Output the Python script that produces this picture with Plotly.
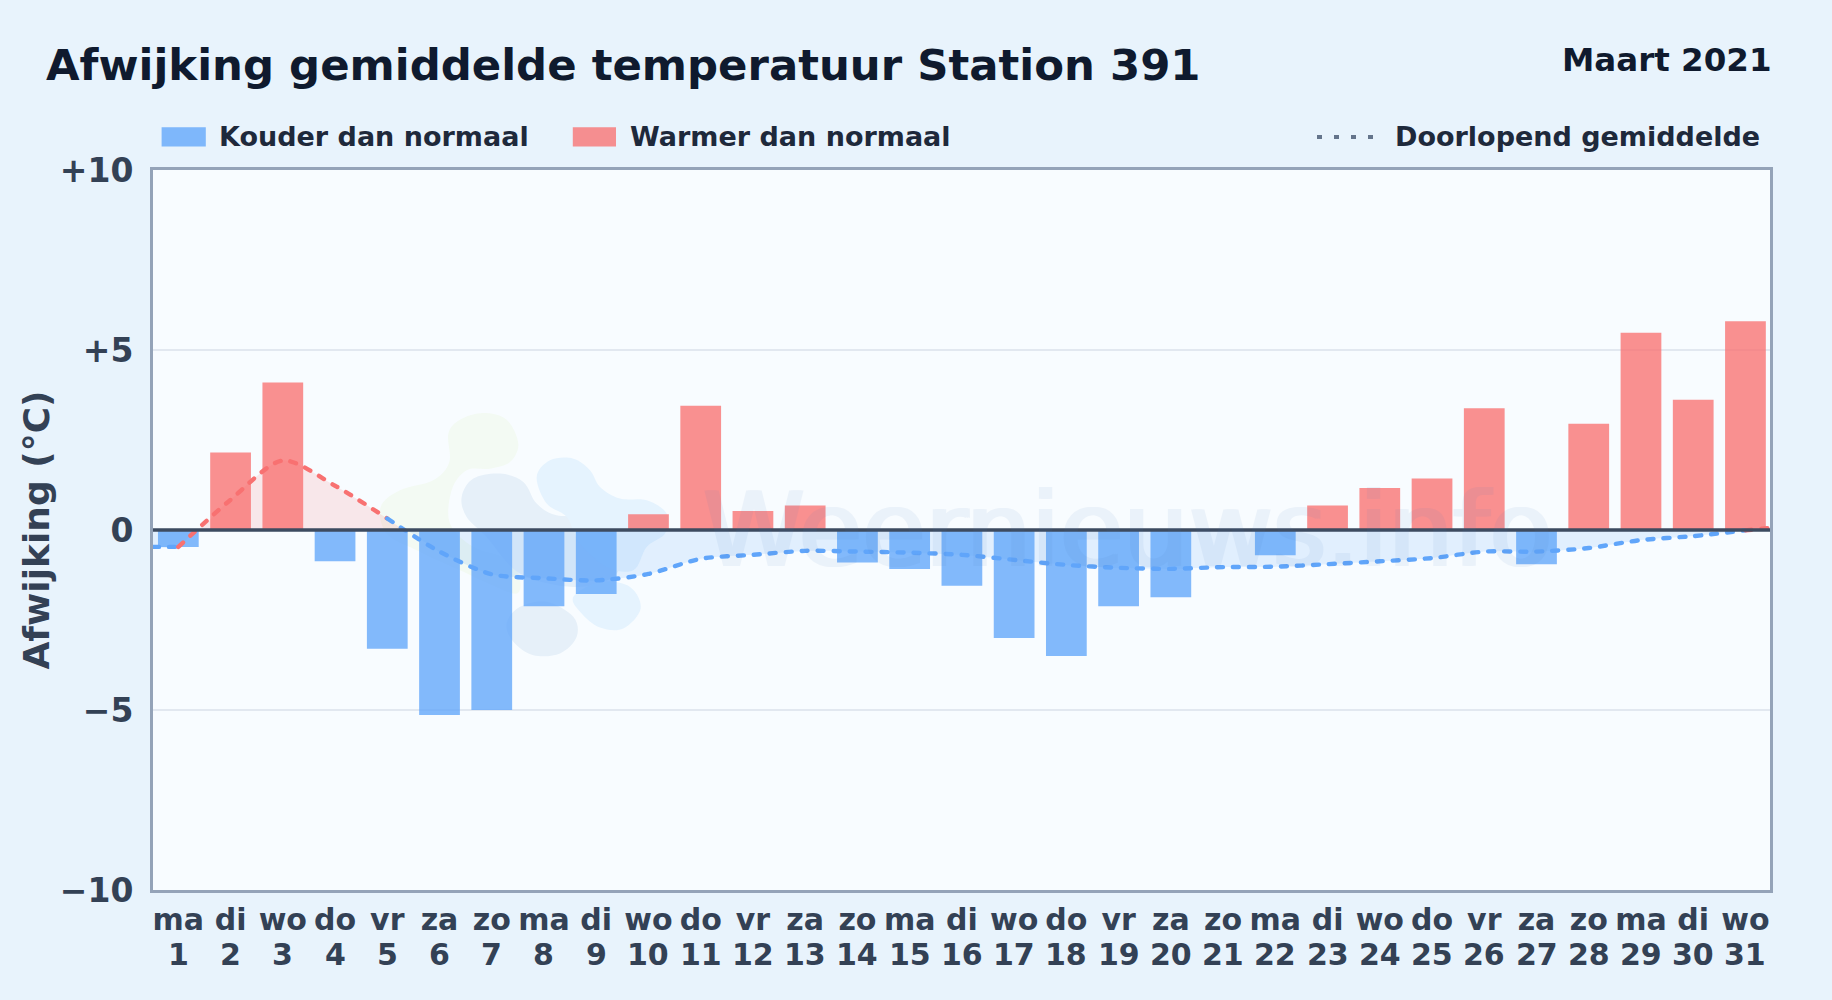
import plotly.graph_objects as go

# ---- data ----
days = list(range(1, 32))
weekdays = ["ma","di","wo","do","vr","za","zo","ma","di","wo","do","vr","za","zo","ma","di","wo","do","vr","za","zo","ma","di","wo","do","vr","za","zo","ma","di","wo"]
deviation = [-0.47,2.15,4.10,-0.87,-3.30,-5.14,-5.00,-2.12,-1.78,0.44,3.45,0.53,0.68,-0.90,-1.08,-1.55,-3.00,-3.50,-2.12,-1.87,0.0,-0.70,0.68,1.17,1.43,3.38,-0.95,2.95,5.48,3.62,5.80]
running_mean = [-0.47,-0.47,0.84,1.93,1.23,0.32,-0.60,-1.23,-1.34,-1.40,-1.22,-0.80,-0.69,-0.58,-0.60,-0.63,-0.69,-0.83,-0.97,-1.05,-1.08,-1.03,-1.02,-0.95,-0.87,-0.78,-0.60,-0.60,-0.50,-0.28,-0.17,-0.01,0.06]
x_range = [0.515, 31.47]
running_x = [x_range[0]] + days + [x_range[1]]
y_ticks = [10, 5, 0, -5, -10]
y_labels = ["+10", "+5", "0", "\u22125", "\u221210"]

COLD, WARM = "#60a5fa", "#f87171"
W, H = 1832, 1000
L, R, T, B = 153, 1770, 169.5, 890
FONT = "DejaVu Sans"
INK, TICK = "#0f1a2e", "#334155"

def px(x): return (x - L) / (R - L)
def py(y): return (B - y) / (B - T)

fig = go.Figure()

# area between running mean and zero (with computed zero crossings)
fx, fy = [], []
for i, (x, v) in enumerate(zip(running_x, running_mean)):
    if i and running_mean[i-1] * v < 0:
        p = running_mean[i-1]
        fx.append(running_x[i-1] + (x - running_x[i-1]) * (-p) / (v - p))
        fy.append(0.0)
    fx.append(x); fy.append(v)
for sign, col in ((1, "rgba(248,113,113,0.15)"), (-1, "rgba(96,165,250,0.15)")):
    fig.add_trace(go.Scatter(x=fx, y=[max(v, 0) if sign > 0 else min(v, 0) for v in fy], mode="lines",
                             line=dict(width=0, shape="spline", smoothing=0.8), fill="tozeroy", fillcolor=col,
                             hoverinfo="skip", showlegend=False))

# bars
fig.add_trace(go.Bar(name="Kouder dan normaal", x=days, y=[v if v < 0 else None for v in deviation],
                     marker=dict(color=COLD, opacity=0.78, line_width=0), width=0.78, showlegend=False))
fig.add_trace(go.Bar(name="Warmer dan normaal", x=days, y=[v if v >= 0 else None for v in deviation],
                     marker=dict(color=WARM, opacity=0.78, line_width=0), width=0.78, showlegend=False))

# running mean: every stretch coloured by the sign of its end point
start = 0
for i in range(1, len(running_x)):
    end_sign = running_mean[i] >= 0
    if i == len(running_x) - 1 or (running_mean[i+1] >= 0) != end_sign:
        fig.add_trace(go.Scatter(x=running_x[start:i+1], y=running_mean[start:i+1], mode="lines",
                                 name="Doorlopend gemiddelde",
                                 line=dict(color=WARM if end_sign else COLD, width=4.4, dash="6px,10px",
                                           shape="spline", smoothing=0.8), showlegend=False))
        start = i

shapes = []

# faint logo watermark behind the bars
def blob(points, color):
    pts = [(px(360 + a / 3), py(390 + b / 3)) for a, b in points]
    n = len(pts)
    d = f"M{pts[0][0]:.5f},{pts[0][1]:.5f}"
    for i in range(n):
        p0, p1, p2, p3 = pts[i-1], pts[i], pts[(i+1) % n], pts[(i+2) % n]
        c1 = (p1[0] + (p2[0]-p0[0])/6, p1[1] + (p2[1]-p0[1])/6)
        c2 = (p2[0] - (p3[0]-p1[0])/6, p2[1] - (p3[1]-p1[1])/6)
        d += f" C{c1[0]:.5f},{c1[1]:.5f} {c2[0]:.5f},{c2[1]:.5f} {p2[0]:.5f},{p2[1]:.5f}"
    shapes.append(dict(type="path", path=d + " Z", xref="paper", yref="paper", layer="below",
                       fillcolor=color, line_width=0))

blob([(265,130),(300,88),(370,68),(440,88),(475,160),(450,215),(390,235),(320,240),(275,300),(270,400),(340,470),(450,510),(480,570),(470,610),(410,590),(300,540),(170,480),(80,430),(62,350),(120,300),(220,270),(268,215)], "#f3faf3")
blob([(305,320),(340,265),(420,250),(490,275),(530,340),(590,375),(700,380),(760,420),(790,480),(760,560),(640,590),(480,550),(380,440),(320,380)], "#e6f0f9")
blob([(440,700),(480,650),(560,635),(640,680),(650,740),(600,790),(520,795),(460,755)], "#e6f0f9")
blob([(530,260),(570,210),(640,205),(690,240),(720,290),(780,325),(860,330),(920,370),(915,430),(860,470),(820,540),(740,530),(660,460),(620,380),(560,340)], "#e5f3fe")
blob([(640,620),(720,575),(810,590),(842,655),(790,715),(720,712),(665,670)], "#e5f3fe")

# zero line over the bars
shapes.append(dict(type="line", xref="paper", yref="y", x0=0, x1=1, y0=0, y1=0, layer="above",
                   line=dict(color="#3d4b60", width=3.4)))

# legend swatches
shapes.append(dict(type="rect", xref="paper", yref="paper", x0=px(161.6), x1=px(205.8), y0=py(146), y1=py(126.7),
                   fillcolor=COLD, opacity=0.78, line_width=0))
shapes.append(dict(type="rect", xref="paper", yref="paper", x0=px(572.8), x1=px(616), y0=py(146), y1=py(126.7),
                   fillcolor=WARM, opacity=0.78, line_width=0))
shapes.append(dict(type="line", xref="paper", yref="paper", x0=px(1317), x1=px(1375), y0=py(136.5), y1=py(136.5),
                   line=dict(color="#64748b", width=4, dash="5px,12px")))

def note(text, x, y, size, color, anchor="left", **kw):
    return dict(text=text, xref="paper", yref="paper", x=px(x), y=py(y), xanchor=anchor, yanchor="middle",
                showarrow=False, font=dict(family=FONT, size=size, color=color, weight="bold"), **kw)

annotations = [
    note("Afwijking gemiddelde temperatuur Station 391", 44, 64, 43.4, INK),
    note("Maart 2021", 1774, 59, 32.5, INK, anchor="right"),
    note("Kouder dan normaal", 216.5, 136, 27, "#1e293b"),
    note("Warmer dan normaal", 627.5, 136, 27, "#1e293b"),
    note("Doorlopend gemiddelde", 1392.5, 136, 27, "#1e293b"),
    dict(text="Weernieuws.info", xref="paper", yref="paper", x=px(1127), y=py(530), xanchor="center", yanchor="middle",
         showarrow=False, opacity=0.07,
         font=dict(family=FONT, size=103, color="#4778be", weight="normal",
                   shadow="2px 0 0 #4778be, -2px 0 0 #4778be")),
]
for d in days:
    annotations.append(dict(text=str(d), xref="x", yref="paper", x=d, y=py(955), xanchor="center", yanchor="middle",
                            showarrow=False, font=dict(family=FONT, size=30, color=TICK, weight="bold")))

fig.update_layout(
    width=W, height=H, margin=dict(l=L, r=W-R, t=T, b=H-B, autoexpand=False),
    paper_bgcolor="#e8f3fc", plot_bgcolor="#f8fcff", barmode="overlay",
    font=dict(family=FONT), shapes=shapes, annotations=annotations, showlegend=False,
    xaxis=dict(range=x_range, tickmode="array", tickvals=days, ticktext=weekdays, ticks="", showgrid=False, zeroline=False,
               tickangle=0, ticklabelstandoff=1, tickfont=dict(family=FONT, size=30, color=TICK, weight="bold"),
               showline=True, mirror=True, linecolor="#94a3b8", linewidth=3),
    yaxis=dict(range=[-10, 10], tickmode="array", tickvals=y_ticks, ticktext=y_labels, ticks="",
               gridcolor="#e2e8f0", gridwidth=2, zeroline=False, ticklabelstandoff=10,
               tickfont=dict(family=FONT, size=33, color=TICK, weight="bold"),
               showline=True, mirror=True, linecolor="#94a3b8", linewidth=3,
               title=dict(text="Afwijking (°C)", font=dict(family=FONT, size=36, color=TICK, weight="bold"), standoff=0)),
)

fig.write_html("out.html", config={"displayModeBar": False}, post_script=(
    "document.body.style.margin='0';document.body.style.overflow='hidden';"
    "document.querySelectorAll('.js-line').forEach(function(p){p.style.strokeLinecap='round';});"))
